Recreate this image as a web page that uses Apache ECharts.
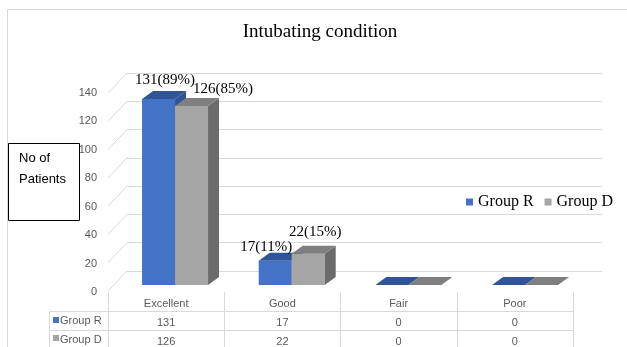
<!DOCTYPE html>
<html>
<head>
<meta charset="utf-8">
<script src="https://cdn.jsdelivr.net/npm/echarts@6/dist/echarts.min.js"></script>
<style>
html,body{margin:0;padding:0;background:#fff;}
#c{width:627px;height:347px;}
</style>
</head>
<body>
<div id="c"></div>
<script>
// ---- data ----
const categories = ['Excellent', 'Good', 'Fair', 'Poor'];
const seriesNames = ['Group R', 'Group D'];
const groupR = [131, 17, 0, 0];
const groupD = [126, 22, 0, 0];
const pctR = [89, 11, null, null];
const pctD = [85, 15, null, null];
const yMin = 0, yMax = 140, yStep = 20;
const titleText = 'Intubating condition';
const yTitleLines = ['No of', 'Patients'];

// ---- styles ----
const SANS = 'Liberation Sans, Arial, sans-serif';
const SERIF = 'Liberation Serif, Times New Roman, serif';
const colR = {front: '#4472C4', top: '#2F5597', side: '#2F5597'};
const colD = {front: '#A5A5A5', top: '#7F7F7F', side: '#6B6B6B'};
const labelShiftR = [[6.5, -19], [-9, -14], [0, 0], [0, 0]];
const labelShiftD = [[31.5, -17.5], [7, -22], [0, 0], [0, 0]];
const BAR_W = 33, DX = 11, DY = 8;

function barRenderer(sIdx, col, pct, shifts) {
  return function (params, api) {
    const i = api.value(0), v = api.value(1);
    const t = api.coord([i, v]);
    const b = api.coord([i, 0]);
    const x0 = sIdx === 0 ? t[0] - BAR_W : t[0];
    const yT = t[1], yB = b[1];
    const children = [
      {type: 'rect', shape: {x: x0, y: yT, width: BAR_W, height: yB - yT}, style: {fill: col.front}},
      {type: 'polygon', shape: {points: [[x0 + BAR_W, yT], [x0 + BAR_W + DX, yT - DY], [x0 + BAR_W + DX, yB - DY], [x0 + BAR_W, yB]]}, style: {fill: col.side}},
      {type: 'polygon', shape: {points: [[x0, yT], [x0 + BAR_W, yT], [x0 + BAR_W + DX, yT - DY], [x0 + DX, yT - DY]]}, style: {fill: col.top}}
    ];
    if (pct[i] !== null) {
      children.push({type: 'text', x: x0 + BAR_W / 2 + shifts[i][0], y: yT + shifts[i][1],
        style: {text: v + '(' + pct[i] + '%)', font: '15px ' + SERIF, fill: '#000', textAlign: 'center', textVerticalAlign: 'middle'}});
    }
    return {type: 'group', children: children};
  };
}

const tickVals = [];
for (let v = yMin; v <= yMax; v += yStep) tickVals.push([0, v]);

const chart = echarts.init(document.getElementById('c'), null, {renderer: 'canvas'});
chart.setOption({
  animation: false,
  title: {text: titleText, left: 315, top: 18, textAlign: 'center',
    textStyle: {fontFamily: SERIF, fontSize: 19, fontWeight: 'normal', color: '#000'}},
  legend: {data: seriesNames, left: 461, top: 189, icon: 'rect', itemWidth: 7, itemHeight: 7, itemGap: 11,
    textStyle: {fontFamily: SERIF, fontSize: 16, color: '#000'}},
  grid: [
    {left: 116.7, width: 466.7, top: 86.2, height: 198.8, outerBoundsMode: 'none', containLabel: false},
    {left: 127, width: 475, top: 73, height: 198, outerBoundsMode: 'none', containLabel: false},
    {left: 108, width: 465, top: 93, height: 199, outerBoundsMode: 'none', containLabel: false}
  ],
  xAxis: [
    {gridIndex: 0, type: 'category', data: categories, show: false},
    {gridIndex: 1, type: 'category', data: categories, show: false},
    {gridIndex: 2, type: 'category', data: categories, position: 'bottom',
      axisLine: {show: false},
      axisTick: {show: true, interval: 0, length: 70, lineStyle: {color: '#D9D9D9'}},
      axisLabel: {interval: 0, margin: 2, color: '#595959', fontFamily: SANS, fontSize: 11, lineHeight: 19,
        formatter: function (val, idx) { return val + '\n' + groupR[idx] + '\n' + groupD[idx]; }}}
  ],
  yAxis: [
    {gridIndex: 0, type: 'value', min: yMin, max: yMax, interval: yStep, show: false},
    {gridIndex: 1, type: 'value', min: yMin, max: yMax, interval: yStep,
      axisLabel: {show: false}, axisLine: {show: false}, axisTick: {show: false},
      splitLine: {show: true, lineStyle: {color: '#D9D9D9', width: 1}}},
    {gridIndex: 2, type: 'value', min: yMin, max: yMax, interval: yStep,
      axisLine: {show: false}, axisTick: {show: false}, splitLine: {show: false},
      axisLabel: {margin: 11, color: '#595959', fontFamily: SANS, fontSize: 11}}
  ],
  series: [
    {type: 'custom', name: 'diag', xAxisIndex: 1, yAxisIndex: 1, data: tickVals, silent: true,
      renderItem: function (params, api) {
        const p = api.coord([0, api.value(1)]);
        const x = params.coordSys.x;
        return {type: 'line', shape: {x1: x - 19, y1: p[1] + 20, x2: x, y2: p[1]}, style: {stroke: '#D9D9D9', lineWidth: 1}};
      }},
    {type: 'custom', name: seriesNames[0], xAxisIndex: 0, yAxisIndex: 0, itemStyle: {color: colR.front},
      data: groupR.map(function (v, i) { return [i, v]; }), encode: {x: 0, y: 1},
      renderItem: barRenderer(0, colR, pctR, labelShiftR)},
    {type: 'custom', name: seriesNames[1], xAxisIndex: 0, yAxisIndex: 0, itemStyle: {color: colD.front},
      data: groupD.map(function (v, i) { return [i, v]; }), encode: {x: 0, y: 1},
      renderItem: barRenderer(1, colD, pctD, labelShiftD)}
  ],
  graphic: [
    {type: 'rect', shape: {x: 7.5, y: 9.5, width: 700, height: 400}, style: {fill: null, stroke: '#D9D9D9', lineWidth: 1}, z: -10},
    {type: 'rect', shape: {x: 8.5, y: 143.5, width: 71, height: 77}, style: {fill: '#fff', stroke: '#000', lineWidth: 1}, z: 10},
    {type: 'text', x: 19, y: 158, style: {text: yTitleLines[0], font: '13px ' + SANS, fill: '#000', textVerticalAlign: 'middle'}, z: 11},
    {type: 'text', x: 19, y: 179, style: {text: yTitleLines[1], font: '13px ' + SANS, fill: '#000', textVerticalAlign: 'middle'}, z: 11},
    {type: 'line', shape: {x1: 49, y1: 311.5, x2: 573, y2: 311.5}, style: {stroke: '#D9D9D9', lineWidth: 1}},
    {type: 'line', shape: {x1: 49, y1: 330.5, x2: 573, y2: 330.5}, style: {stroke: '#D9D9D9', lineWidth: 1}},
    {type: 'line', shape: {x1: 49.5, y1: 311, x2: 49.5, y2: 360}, style: {stroke: '#D9D9D9', lineWidth: 1}},
    {type: 'rect', shape: {x: 53, y: 317, width: 6, height: 6}, style: {fill: colR.front}},
    {type: 'text', x: 60, y: 321, style: {text: seriesNames[0], font: '11px ' + SANS, fill: '#595959', textVerticalAlign: 'middle'}},
    {type: 'rect', shape: {x: 53, y: 335, width: 6, height: 6}, style: {fill: colD.front}},
    {type: 'text', x: 60, y: 339.5, style: {text: seriesNames[1], font: '11px ' + SANS, fill: '#595959', textVerticalAlign: 'middle'}}
  ]
});
</script>
</body>
</html>
